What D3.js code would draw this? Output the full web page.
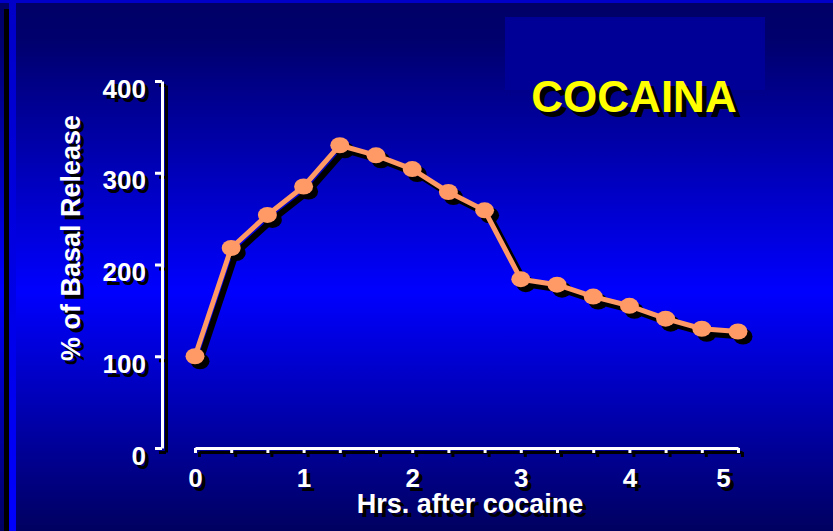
<!DOCTYPE html>
<html>
<head>
<meta charset="utf-8">
<script src="https://cdn.jsdelivr.net/npm/d3@7"></script>
<style>
html,body{margin:0;padding:0;background:#000066;}
svg{display:block;}
text{font-family:Arial,"Liberation Sans",sans-serif;font-weight:bold;}
</style>
</head>
<body>
<svg id="chart" width="833" height="531"></svg>
<script>
// ---- data ----
const hours = [0, 1/3, 2/3, 1, 4/3, 5/3, 2, 7/3, 8/3, 3, 10/3, 11/3, 4, 13/3, 14/3, 5];
const release = [100, 218, 254, 285, 330, 319, 304, 279, 259, 184, 178, 165, 155, 141, 130, 127];
const yTicks = [0, 100, 200, 300, 400];
const xTicks = [0, 1/3, 2/3, 1, 4/3, 5/3, 2, 7/3, 8/3, 3, 10/3, 11/3, 4, 13/3, 14/3, 5];
const xTickLabels = ["0", "1", "2", "3", "4", "5"];
const title = "COCAINA";
const yTitle = "% of Basal Release";
const xTitle = "Hrs. after cocaine";

const W = 833, H = 531;
const svg = d3.select("#chart");

// background gradient
const defs = svg.append("defs");
const g = defs.append("linearGradient").attr("id", "bg").attr("x1", 0).attr("y1", 0).attr("x2", 0).attr("y2", 1);
g.append("stop").attr("offset", "0%").attr("stop-color", "#000066");
g.append("stop").attr("offset", "8%").attr("stop-color", "#00006E");
g.append("stop").attr("offset", "55%").attr("stop-color", "#0000FF");
g.append("stop").attr("offset", "100%").attr("stop-color", "#000060");
const g2 = defs.append("linearGradient").attr("id", "strip").attr("x1", 0).attr("y1", 0).attr("x2", 0).attr("y2", 1);
g2.append("stop").attr("offset", "0%").attr("stop-color", "#0000C8");
g2.append("stop").attr("offset", "100%").attr("stop-color", "#0000FF");

svg.append("rect").attr("width", W).attr("height", H).attr("fill", "url(#bg)");
// frame details
svg.append("rect").attr("x", 0).attr("y", 0).attr("width", W).attr("height", 3).attr("fill", "#0000C8");
svg.append("rect").attr("x", 4).attr("y", 9).attr("width", 5).attr("height", H - 9).attr("fill", "#000000");
svg.append("rect").attr("x", 9).attr("y", 0).attr("width", 7).attr("height", H).attr("fill", "url(#strip)");
svg.append("rect").attr("x", 0).attr("y", 0).attr("width", 16).attr("height", 3).attr("fill", "#0000C8");

// title box
svg.append("rect").attr("x", 505).attr("y", 17).attr("width", 260).attr("height", 73).attr("fill", "#000096");

// scales
const x = d3.scaleLinear().domain([0, 5]).range([195, 738]);
const y = d3.scaleLinear().domain([0, 400]).range([448, 81]);

const SH = 5;   // line / marker shadow
const TS = 4;   // text & axis shadow

function drawYAxis(color, off) {
  const ax = svg.append("g")
    .attr("transform", `translate(${162 + off},${off})`)
    .call(d3.axisLeft(y).tickValues(yTicks).tickSize(7).tickSizeOuter(0).tickPadding(9));
  ax.select(".domain").attr("stroke", color).attr("stroke-width", 3);
  ax.selectAll(".tick line").attr("stroke", color).attr("stroke-width", 3);
  ax.selectAll(".tick text").attr("fill", color).attr("font-size", 26)
    .attr("dy", "16px").style("font-family", "Arial,'Liberation Sans',sans-serif").style("font-weight", "bold");
}
function drawXAxis(color, off) {
  const ax = svg.append("g")
    .attr("transform", `translate(${off},${448 + off})`)
    .call(d3.axisBottom(x).tickValues(xTicks).tickSize(5).tickSizeOuter(0).tickPadding(0)
      .tickFormat(d => Math.abs(d - Math.round(d)) < 1e-6 ? xTickLabels[Math.round(d)] : ""));
  ax.select(".domain").attr("stroke", color).attr("stroke-width", 3);
  ax.selectAll(".tick line").attr("stroke", color).attr("stroke-width", 3);
  ax.selectAll(".tick text").attr("fill", color).attr("font-size", 26)
    .attr("y", 39).attr("dy", 0)
    .attr("dx", d => Math.abs(d - 5) < 1e-6 ? -15 : 0)
    .style("font-family", "Arial,'Liberation Sans',sans-serif").style("font-weight", "bold");
}
drawYAxis("#000", TS);
drawYAxis("#fff", 0);
drawXAxis("#000", TS);
drawXAxis("#fff", 0);

// axis titles with shadow
function shadowText(txt, xx, yy, size, fill, rot, off) {
  [["#000", off], [fill, 0]].forEach(([c, o]) => {
    const t = svg.append("text")
      .attr("text-anchor", "middle")
      .attr("font-size", size)
      .attr("fill", c)
      .text(txt);
    if (rot) t.attr("transform", `translate(${xx + o},${yy + o}) rotate(${rot})`);
    else t.attr("x", xx + o).attr("y", yy + o);
  });
}
shadowText(yTitle, 80, 238, 27, "#fff", -90, TS);
shadowText(xTitle, 470, 513, 27, "#fff", 0, TS);
shadowText(title, 634, 112, 44, "#FFFF00", 0, 5);

// data line and markers
const pts = hours.map((h, i) => [h, release[i]]);
const line = d3.line().x(d => x(d[0])).y(d => y(d[1]));

svg.append("path").datum(pts).attr("d", line).attr("fill", "none")
  .attr("stroke", "#000").attr("stroke-width", 6).attr("stroke-linejoin", "round")
  .attr("transform", `translate(${SH},${SH})`);
svg.append("g").attr("transform", `translate(${SH},${SH})`)
  .selectAll("ellipse").data(pts).join("ellipse")
  .attr("cx", d => x(d[0])).attr("cy", d => y(d[1])).attr("rx", 9.5).attr("ry", 8).attr("fill", "#000");

svg.append("path").datum(pts).attr("d", line).attr("fill", "none")
  .attr("stroke", "#FF9966").attr("stroke-width", 5).attr("stroke-linejoin", "round");
svg.append("g")
  .selectAll("ellipse").data(pts).join("ellipse")
  .attr("cx", d => x(d[0])).attr("cy", d => y(d[1])).attr("rx", 9.5).attr("ry", 8).attr("fill", "#FF9966");
</script>
</body>
</html>
